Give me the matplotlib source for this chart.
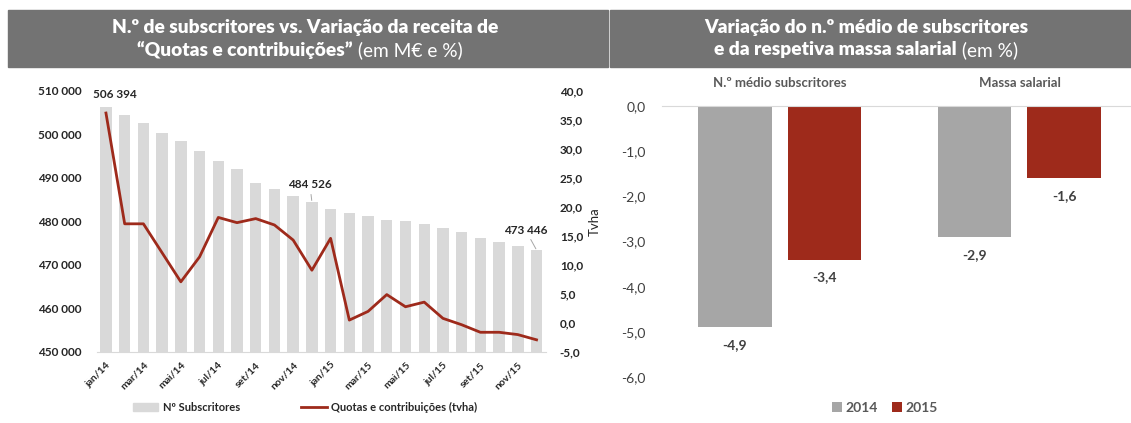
import matplotlib
matplotlib.use("Agg")
import matplotlib.pyplot as plt
from matplotlib.patches import Rectangle, Patch
from matplotlib.lines import Line2D
from matplotlib.ticker import FuncFormatter

plt.rcParams["font.family"] = ["Lato", "DejaVu Sans"]

# --- Dados ---
meses = ["jan/14", "fev/14", "mar/14", "abr/14", "mai/14", "jun/14",
         "jul/14", "ago/14", "set/14", "out/14", "nov/14", "dez/14",
         "jan/15", "fev/15", "mar/15", "abr/15", "mai/15", "jun/15",
         "jul/15", "ago/15", "set/15", "out/15", "nov/15", "dez/15"]
subscritores = [506394, 504550, 502700, 500400, 498500, 496200,
                494000, 492100, 488800, 487400, 485800, 484526,
                482800, 482000, 481300, 480300, 480000, 479400,
                478600, 477500, 476100, 475200, 474400, 473446]
quotas_tvha = [36.2, 17.1, 17.1, 12.1, 7.1, 11.4,
               18.2, 17.3, 18.0, 16.9, 14.3, 9.1,
               14.6, 0.5, 2.0, 4.9, 2.8, 3.6,
               0.8, -0.3, -1.6, -1.6, -2.0, -2.9]
rotulos_destacados = [0, 11, 23]

categorias = ["N.º médio subscritores", "Massa salarial"]
var_2014 = [-4.9, -2.9]
var_2015 = [-3.4, -1.6]

# --- Cores ---
CINZA_CLARO = "#d9d9d9"
CINZA = "#a6a6a6"
VERMELHO = "#9e2a1b"
TEXTO = "#262626"
TEXTO2 = "#404040"
CABECALHO = "#737373"

W, H = 1131, 423
fig = plt.figure(figsize=(W / 100, H / 100), dpi=100)


def fx(px):
    return px / W


def fy(py):
    return 1 - py / H


# --- Cabeçalhos cinzentos ---
fig.patches.append(Rectangle((fx(8), fy(67)), fx(600), 57 / H, transform=fig.transFigure,
                             color=CABECALHO, zorder=0))
fig.patches.append(Rectangle((fx(610), fy(67)), fx(521), 57 / H, transform=fig.transFigure,
                             color=CABECALHO, zorder=0))


def titulo_misto(xc, yc, partes, size=13.8):
    textos = [fig.text(0, fy(yc), txt, color="white", fontsize=size, fontweight=w,
                       va="center", ha="left") for txt, w in partes]
    fig.canvas.draw()
    r = fig.canvas.get_renderer()
    larguras = [t.get_window_extent(r).width for t in textos]
    x0 = xc - sum(larguras) / 2
    for t, lw in zip(textos, larguras):
        t.set_x(fx(x0))
        x0 += lw


titulo_misto(305, 27, [("N.º de subscritores vs. Variação da receita de", "heavy")])
titulo_misto(300, 50, [("“Quotas e contribuições”", "heavy"), (" (em M€ e %)", "normal")])
titulo_misto(866, 27, [("Variação do n.º médio de subscritores", "heavy")])
titulo_misto(866, 50, [("e da respetiva massa salarial", "heavy"), (" (em %)", "normal")])

# --- Gráfico da esquerda ---
ax = fig.add_axes([fx(96.6), fy(352), fx(449.3), 261 / H])
x = list(range(len(meses)))
ax.bar(x, subscritores, width=0.61, color=CINZA_CLARO, zorder=1)
ax.set_xlim(-0.5, len(meses) - 0.5)
ax.set_ylim(450000, 510000)
ax.set_yticks(range(450000, 510001, 10000))
ax.yaxis.set_major_formatter(FuncFormatter(lambda v, p: f"{int(v):,}".replace(",", " ")))
ax.set_xticks(x[::2])
ax.set_xticklabels(meses[::2], rotation=45, ha="right", rotation_mode="anchor",
                   fontsize=7.5, fontweight="bold", color=TEXTO)
for s in ["top", "right", "left"]:
    ax.spines[s].set_visible(False)
ax.spines["bottom"].set_color(CINZA_CLARO)
ax.tick_params(axis="both", length=0)
ax.tick_params(axis="y", pad=11, labelsize=8.5, labelcolor=TEXTO)
ax.tick_params(axis="x", pad=6)
for lab in ax.get_yticklabels():
    lab.set_fontweight("bold")

desloc = {0: (9, 12), 11: (-2, 17), 23: (-11, 20)}
for i in rotulos_destacados:
    dx, dy = desloc[i]
    txt = f"{subscritores[i]:,}".replace(",", " ")
    if i == 0:
        ax.annotate(txt, (i, subscritores[i]), xytext=(dx, dy), textcoords="offset pixels",
                    ha="center", va="center", fontsize=8.5, fontweight="bold", color=TEXTO)
    else:
        ax.annotate(txt, (i, subscritores[i]), xytext=(dx, dy), textcoords="offset pixels",
                    ha="center", va="center", fontsize=8.5, fontweight="bold", color=TEXTO,
                    arrowprops=dict(arrowstyle="-", color="#a6a6a6", lw=0.7,
                                    shrinkA=1, shrinkB=1))

ax2 = ax.twinx()
ax2.plot(x, quotas_tvha, color=VERMELHO, linewidth=2.0, zorder=3)
ax2.set_ylim(-5, 40)
ax2.set_yticks(range(-5, 41, 5))
ax2.yaxis.set_major_formatter(FuncFormatter(lambda v, p: f"{v:.1f}".replace(".", ",")))
for s in ["top", "right", "left", "bottom"]:
    ax2.spines[s].set_visible(False)
ax2.tick_params(axis="y", length=0, pad=10, labelsize=8.5, labelcolor=TEXTO)
for lab in ax2.get_yticklabels():
    lab.set_fontweight("bold")
ax2.set_ylabel("Tvha", fontsize=9.5, color=TEXTO, labelpad=4)

fig.legend(handles=[Patch(color=CINZA_CLARO, label="Nº Subscritores"),
                    Line2D([], [], color=VERMELHO, lw=2.0, label="Quotas e contribuições (tvha)")],
           loc="center", bbox_to_anchor=(fx(305), fy(407)), ncol=2, frameon=False,
           prop={"size": 8, "weight": "bold"}, labelcolor=TEXTO, handlelength=2.3,
           handleheight=0.7, handletextpad=0.4, columnspacing=5.5)

# --- Gráfico da direita ---
bx = fig.add_axes([fx(662), fy(377), fx(469), 271 / H])
pos = list(range(len(categorias)))
off, larg = 0.1875, 0.308
b1 = bx.bar([p - off for p in pos], var_2014, width=larg, color=CINZA, label="2014")
b2 = bx.bar([p + off for p in pos], var_2015, width=larg, color=VERMELHO, label="2015")
bx.set_xlim(-0.49, 1.465)
bx.set_ylim(-6, 0)
bx.set_yticks(range(-6, 1))
bx.yaxis.set_major_formatter(FuncFormatter(lambda v, p: f"{v:.1f}".replace(".", ",")))
bx.xaxis.tick_top()
bx.set_xticks(pos)
bx.set_xticklabels(categorias, fontsize=9.5, fontweight="bold", color="#595959")
bx.tick_params(axis="both", length=0)
bx.tick_params(axis="x", pad=12)
bx.tick_params(axis="y", pad=12, labelsize=10, labelcolor=TEXTO2)
for s in ["bottom", "right", "left"]:
    bx.spines[s].set_visible(False)
bx.spines["top"].set_color(CINZA_CLARO)
for barras in (b1, b2):
    for r in barras:
        v = r.get_height()
        bx.annotate(f"{v:.1f}".replace(".", ","), (r.get_x() + r.get_width() / 2, v),
                    xytext=(0, -18), textcoords="offset pixels", ha="center", va="center",
                    fontsize=10, fontweight="bold", color=TEXTO2)

fig.legend(handles=[b1, b2], loc="center", bbox_to_anchor=(fx(885), fy(408)), ncol=2,
           frameon=False, prop={"size": 10, "weight": "bold"}, labelcolor="#595959",
           handlelength=0.7, handleheight=0.7, handletextpad=0.3, columnspacing=1.0)

fig.savefig("out.png", dpi=100)
